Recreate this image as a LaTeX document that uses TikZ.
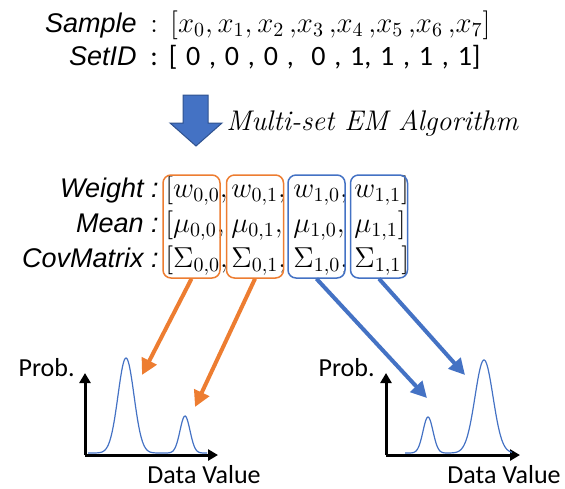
\documentclass[tikz,border=0pt]{standalone}
\usepackage{fontspec}
\usepackage{amsmath}
\usepackage{tikz}
\usetikzlibrary{
  arrows.meta,
  positioning
}
\newfontfamily\keyfont{Liberation Sans}
\newfontfamily\axisfont{Carlito}
\definecolor{emblue}{RGB}{68,114,196}
\definecolor{emblueedge}{RGB}{47,82,143}
\definecolor{emorange}{RGB}{237,125,49}
\tikzset{
  keyLabel/.style={
    anchor=base east,
    inner sep=0pt,
    font=\keyfont\itshape\fontsize{13.5}{16}\selectfont
  },
  keyValue/.style={
    anchor=base west,
    inner sep=0pt,
    font=\fontsize{14}{16}\selectfont
  },
  paramCell/.style={
    anchor=base west,
    inner sep=0pt,
    font=\fontsize{14}{16}\selectfont
  },
  setBox/.style={
    rectangle,
    rounded corners=4pt,
    line width=0.75pt,
    minimum width=28.5pt,
    minimum height=51.5pt,
    inner sep=0pt
  },
  setArrow/.style={
    -{Triangle[length=8pt,width=8pt]},
    line width=2pt
  },
  axisLine/.style={
    -{Triangle[length=5pt,width=5.5pt]},
    line width=1.5pt
  },
  axisLabel/.style={
    inner sep=0pt,
    font=\axisfont\fontsize{13}{15}\selectfont
  },
  pdfCurve/.style={
    draw=emblue,
    line width=0.6pt
  }
}

\begin{document}
\begin{tikzpicture}[x=0.5pt, y=-0.5pt]
  \useasboundingbox (0,0) rectangle (565,488);

  % input data
  \node[keyLabel] (sample) at (137,32) {Sample};
  \node[keyValue] (samplevals) at (150,32)
    {: $[x_0,x_1,x_2\,{,}x_3\,{,}x_4\,{,}x_5\,{,}x_6\,{,}x_7]$};
  \node[keyLabel] (setid) at (137,65) {SetID};
  \node[keyValue, font=\axisfont\fontsize{14}{16}\selectfont] (setidvals) at (150,65)
    {\spaceskip=4.4pt\relax : [ 0 , 0 , 0 ,\ \ 0 , 1, 1 , 1 , 1]};

  % EM step
  \fill[emblue, draw=emblueedge, line width=0.5pt]
    (183,95) -- (208,95) -- (208,123) -- (222,123) -- (196,146) -- (170,123) -- (183,123) -- cycle;
  \node[anchor=base west, inner sep=0pt, font=\itshape\fontsize{14.2}{17}\selectfont] (emlabel) at (226,130) {Multi-set EM Algorithm};

  % parameters
  \node[keyLabel] (weight) at (159,197) {Weight :};
  \node[keyLabel] (mean) at (159,232) {Mean :};
  \node[keyLabel] (cov) at (159,267) {CovMatrix :};
  \foreach \sym/\yy/\r in {w/197/w, \mu/232/m, \Sigma/267/s} {
    \node[paramCell] (\r00) at (165,\yy) {$[\sym_{0,0},$};
    \node[paramCell] (\r01) at (231,\yy) {$\sym_{0,1},$};
    \node[paramCell] (\r10) at (293,\yy) {$\sym_{1,0},$};
    \node[paramCell] (\r11) at (354,\yy) {$\sym_{1,1}]$};
  }

  \node[setBox, draw=emorange] (comp00) at (191.5,226.5) {};
  \node[setBox, draw=emorange] (comp01) at (255,226.5) {};
  \node[setBox, draw=emblue] (comp10) at (316.5,226.5) {};
  \node[setBox, draw=emblue] (comp11) at (379,226.5) {};

  % set 0
  \coordinate (origin0) at (85,455);
  \draw[axisLine] (origin0) -- ++(0,-82);
  \draw[axisLine] (origin0) -- ++(133,0);
  \draw[pdfCurve] plot[domain=88:207, samples=160]
    (\x, {453-95*exp(((\x-126)*(\x-126))/(-128))-37*exp(((\x-185)*(\x-185))/(-50))});
  \node[axisLabel, anchor=base east] (prob0) at (75,376) {Prob.};
  \node[axisLabel, anchor=base west] (value0) at (147,483) {Data Value};

  % set 1
  \coordinate (origin1) at (386,455);
  \draw[axisLine] (origin1) -- ++(0,-82);
  \draw[axisLine] (origin1) -- ++(134,0);
  \draw[pdfCurve] plot[domain=405:512, samples=160]
    (\x, {453-36*exp(((\x-428)*(\x-428))/(-50))-93*exp(((\x-484)*(\x-484))/(-162))});
  \node[axisLabel, anchor=base east] (prob1) at (375,376) {Prob.};
  \node[axisLabel, anchor=base west] (value1) at (447,483) {Data Value};

  \coordinate (peak00) at (142,375);
  \coordinate (peak01) at (195,407);
  \coordinate (peak10) at (427,398);
  \coordinate (peak11) at (465,375);
  \draw[setArrow, emorange] (comp00.south) -- (peak00);
  \draw[setArrow, emorange] (comp01.south) -- (peak01);
  \draw[setArrow, emblue] (comp10.south) -- (peak10);
  \draw[setArrow, emblue] (comp11.south) -- (peak11);
\end{tikzpicture}
\end{document}
